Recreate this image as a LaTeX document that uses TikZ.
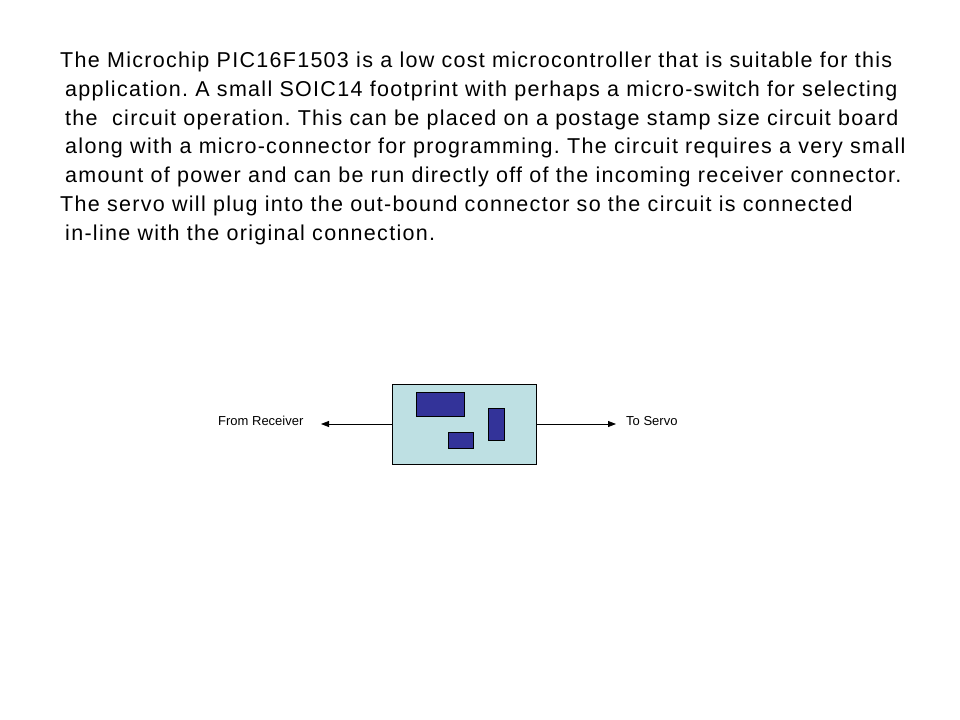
\documentclass[tikz,border=0pt]{standalone}
\usepackage{fontspec}
\setmainfont{Liberation Sans}
\newfontfamily\widefont[LetterSpace=6]{Liberation Sans}
\usetikzlibrary{arrows.meta}
\definecolor{boardcyan}{RGB}{190,224,227}
\definecolor{chipblue}{RGB}{51,51,153}
\frenchspacing
\begin{document}
\begin{tikzpicture}[x=1bp, y=-1bp, >={Triangle[length=8bp, width=6bp]}]
    \useasboundingbox (0,0) rectangle (960,720);
    \tikzset{para/.style={anchor=base west, inner sep=0pt, font=\widefont\fontsize{21.5bp}{24bp}\selectfont},
             chip/.style={draw=black, fill=chipblue, line width=0.8bp, inner sep=0pt},
             lbl/.style={font=\fontsize{13bp}{15bp}\selectfont, inner sep=0pt}}

    % Paragraph
    \node[para] (l1) at (60,67.5) {The Microchip PIC16F1503 is a low cost microcontroller that is suitable for this};
    \node[para] (l2) at (65,96.3) {application. A small SOIC14 footprint with perhaps a micro-switch for selecting};
    \node[para] (l3) at (65,125.1) {the \ circuit operation. This can be placed on a postage stamp size circuit board};
    \node[para] (l4) at (65,153.9) {along with a micro-connector for programming. The circuit requires a very small};
    \node[para] (l5) at (65,182.7) {amount of power and can be run directly off of the incoming receiver connector.};
    \node[para] (l6) at (60,211.5) {The servo will plug into the out-bound connector so the circuit is connected};
    \node[para] (l7) at (65,240.3) {in-line with the original connection.};

    % Circuit board
    \draw[fill=boardcyan, line width=0.8bp] (392,384) rectangle (536,464);
    \coordinate (bl) at (392,424);
    \coordinate (br) at (536,424);
    \node[chip, minimum width=48bp, minimum height=24bp] (mcu) at (440,404) {};
    \node[chip, minimum width=16bp, minimum height=32bp] (sw) at (496,424) {};
    \node[chip, minimum width=25bp, minimum height=16bp] (conn) at (460.5,440) {};

    % Connections
    \coordinate (in) at (321,424);
    \coordinate (out) at (616,424);
    \node[lbl, anchor=west] (rx) at (218,421) {From Receiver};
    \node[lbl, anchor=west] (servo) at (626,421) {To Servo};
    \draw[->, line width=0.8bp] (bl) -- (in);
    \draw[->, line width=0.8bp] (br) -- (out);

\end{tikzpicture}
\end{document}
